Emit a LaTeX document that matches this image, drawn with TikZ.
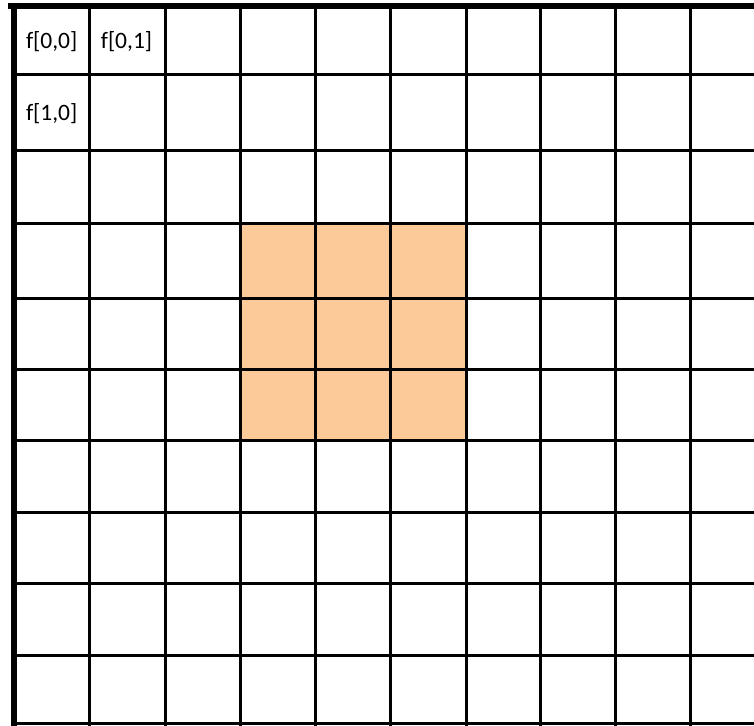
\documentclass[tikz,border=0pt]{standalone}
\usepackage{fontspec}
\setmainfont{Carlito}
\definecolor{cellfill}{RGB}{252,201,152}
\begin{document}
\begin{tikzpicture}[x=1pt,y=-1pt,
  gridline/.style={line width=3pt,black},
  borderline/.style={line width=6pt,black},
  lbl/.style={font=\fontsize{23.5}{28}\selectfont,inner sep=0pt}]
\useasboundingbox (0,0) rectangle (754,725);
\clip (0,0) rectangle (754,725);
% highlighted 3x3 block
\fill[cellfill] (240,223) rectangle (466,440);
% horizontal lines
\foreach \y in {74.7,150.7,223,298,369,440,512.3,583,655,723.5}
  \draw[gridline] (11,\y) -- (760,\y);
% vertical lines
\foreach \x in {89.5,165,240,315.2,390.5,466,540.7,615.3,690.7}
  \draw[gridline] (\x,3) -- (\x,730);
% borders
\draw[borderline] (8,6) -- (760,6);
\draw[borderline] (14,3) -- (14,730);
% labels
\node[lbl] (f00) at (51.7,41.5) {f[0,0]};
\node[lbl] (f01) at (126.5,41.5) {f[0,1]};
\node[lbl] (f10) at (51.7,114) {f[1,0]};
\end{tikzpicture}
\end{document}
